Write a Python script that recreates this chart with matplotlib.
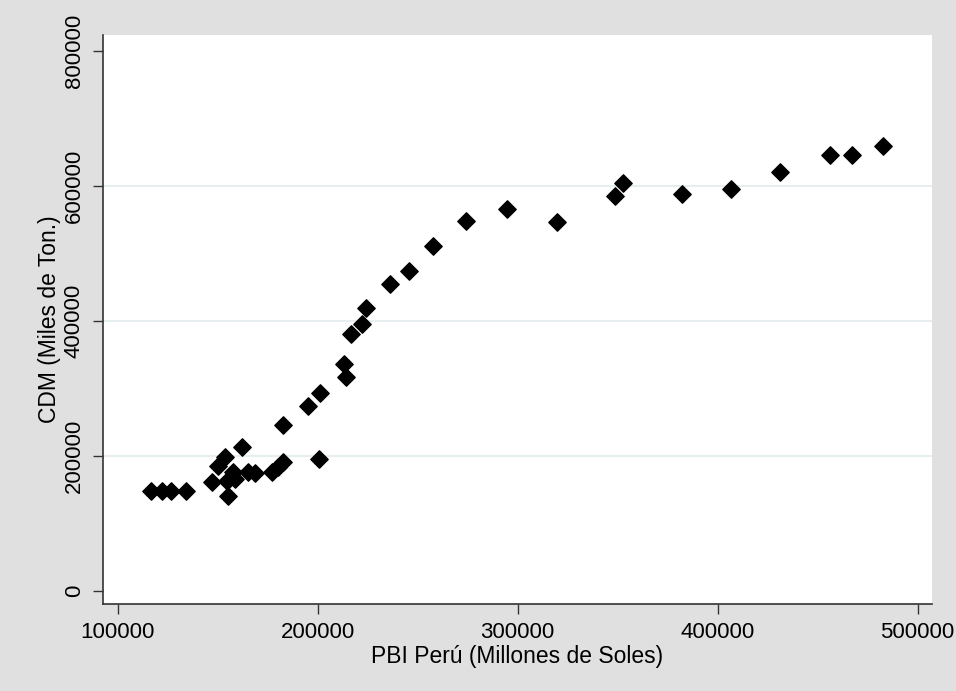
import matplotlib
matplotlib.use("Agg")
import matplotlib.pyplot as plt

# PBI (millones de soles) vs CDM (miles de toneladas)
pbi = [116700, 122200, 126700, 134200,
       147100, 150400, 153700, 155400, 154600, 157900, 158700, 162100,
       165400, 168700, 177100, 180400, 182900, 182600, 200900, 195400,
       201300, 213400, 214100, 216800, 222000, 224200, 236000, 245800,
       257700, 274200, 294700, 319800, 348800, 352800, 382300, 406900,
       431200, 456200, 467400, 482600]
cdm = [148000, 148000, 148000, 148000,
       160400, 185200, 197500, 140600, 162900, 175200, 165400, 213400,
       175200, 173700, 175200, 182600, 190100, 246000, 195100, 274200,
       292800, 336200, 317300, 380700, 394500, 418300, 454900, 474000,
       510300, 547400, 566300, 546000, 584600, 604900, 588600, 596000,
       619800, 645400, 645400, 658800]

x_ticks = [100000, 200000, 300000, 400000, 500000]
y_ticks = [0, 200000, 400000, 600000, 800000]

plt.rcParams['font.family'] = ['Liberation Sans', 'DejaVu Sans']

fig = plt.figure(figsize=(9.56, 6.91), dpi=100, facecolor='#e0e0e0')
ax = fig.add_axes([103 / 956, 1 - 604 / 691, (932 - 103) / 956, (604 - 35) / 691])
ax.set_facecolor('white')

ax.scatter(pbi, cdm, marker='D', s=78, color='black', zorder=3)

ax.set_xlim(92700, 507200)
ax.set_ylim(-19800, 823600)
ax.set_xticks(x_ticks)
ax.set_yticks(y_ticks)
ax.set_xticklabels([str(v) for v in x_ticks])
ax.set_yticklabels([str(v) for v in y_ticks], rotation=90, va='center')

# light horizontal grid lines, skipping the ends
for v in [200000, 400000, 600000]:
    ax.axhline(v, color='#e6eef0', lw=1.5, zorder=1)

for side in ['top', 'right']:
    ax.spines[side].set_visible(False)
for side in ['left', 'bottom']:
    ax.spines[side].set_color('#333333')
    ax.spines[side].set_linewidth(1.2)

ax.tick_params(axis='both', direction='out', length=7.2, width=1, color='#333333',
               labelsize=16, pad=6)

ax.set_xlabel('PBI Perú (Millones de Soles)', fontsize=16.5, labelpad=1)
ax.set_ylabel('CDM (Miles de Ton.)', fontsize=16.5, labelpad=2)

fig.savefig('out.png', dpi=100, facecolor=fig.get_facecolor())
